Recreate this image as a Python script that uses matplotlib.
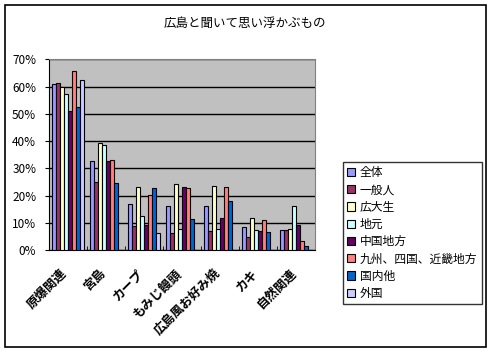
import numpy as np
import matplotlib
matplotlib.use('Agg')
import matplotlib.pyplot as plt
import matplotlib.transforms as mtransforms
from matplotlib.patches import Rectangle

plt.rcParams['font.family'] = ['Noto Sans CJK JP', 'DejaVu Sans']

# 広島と聞いて思い浮かぶもの (percent)
categories = ['原爆関連', '宮島', 'カープ', 'もみじ饅頭', '広島風お好み焼', 'カキ', '自然関連']
groups = ['全体', '一般人', '広大生', '地元', '中国地方', '九州、四国、近畿地方', '国内他', '外国']
zentai    = [60.9, 32.6, 16.8, 16.2, 16.2, 8.4, 7.3]
ippan     = [61.5, 24.9, 8.9, 6.3, 7.0, 4.8, 7.3]
kodaisei  = [60.0, 39.2, 23.2, 24.3, 23.6, 11.7, 7.7]
jimoto    = [57.3, 38.5, 12.6, 7.7, 7.7, 7.3, 16.2]
chugoku   = [50.9, 32.6, 9.3, 23.2, 11.7, 7.0, 9.3]
kyushu    = [65.9, 33.0, 20.1, 22.8, 23.2, 11.0, 3.3]
kokunai   = [52.4, 24.5, 22.8, 11.4, 17.9, 6.6, 1.5]
gaikoku   = [62.6, 0.0, 6.3, 0.0, 0.0, 0.0, 0.0]
series = [zentai, ippan, kodaisei, jimoto, chugoku, kyushu, kokunai, gaikoku]
colors = ['#9999FF', '#993366', '#FFFFCC', '#CCFFFF', '#660066', '#FF8080', '#0066CC', '#CCCCFF']

fig = plt.figure(figsize=(4.94, 3.53), dpi=100)
ax = fig.add_axes([0.0986, 0.2909, 0.5397, 0.541])

n = len(series)
width = 1.0 / (n + 1.5)
x = np.arange(len(categories))
for i, (vals, c, name) in enumerate(zip(series, colors, groups)):
    offs = (i - (n - 1) / 2) * width
    ax.bar(x + offs, vals, width, color=c, edgecolor='black', linewidth=0.8,
           label=name, zorder=3)

ax.set_facecolor('#C0C0C0')
ax.set_xlim(-0.5, len(categories) - 0.5)
ax.set_ylim(0, 70)
ax.set_yticks(range(0, 71, 10))
ax.set_yticklabels([f'{v}%' for v in range(0, 71, 10)], fontsize=8.5)
ax.yaxis.grid(True, color='black', linewidth=1.0, zorder=1)
ax.set_axisbelow(True)
for s in ['top', 'right']:
    ax.spines[s].set_color('#808080')
ax.spines['left'].set_color('black')
ax.spines['bottom'].set_color('black')
ax.tick_params(axis='y', length=3, pad=6)

ax.set_xticks(x)
ax.set_xticklabels(categories, rotation=45, ha='right', rotation_mode='anchor',
                   fontsize=9, fontweight='bold')
ax.tick_params(axis='x', length=0, pad=8)
ax.set_xticks(np.arange(len(categories) + 1) - 0.5, minor=True)
ax.tick_params(axis='x', which='minor', length=3, direction='in', color='black')
# shift the rotated labels a little down and to the left
shift = mtransforms.ScaledTranslation(-7 / 100, -5 / 100, fig.dpi_scale_trans)
for lbl in ax.get_xticklabels():
    lbl.set_transform(lbl.get_transform() + shift)

fig.text(0.496, 1 - 23 / 353, '広島と聞いて思い浮かぶもの', ha='center', va='center', fontsize=9)

leg = fig.legend(loc='upper left', bbox_to_anchor=(0.694, 0.541), borderaxespad=0,
                 fontsize=8.5, frameon=True, fancybox=False, edgecolor='black',
                 handlelength=0.7, handleheight=0.7, handletextpad=0.4,
                 labelspacing=0.36, borderpad=0.35)
leg.get_frame().set_linewidth(1.0)

fig.patches.append(Rectangle((5 / 494, 1 - 347 / 353), 481 / 494, 342 / 353,
                             transform=fig.transFigure, fill=False,
                             edgecolor='black', linewidth=1.2))

fig.savefig('out.png', dpi=100)
